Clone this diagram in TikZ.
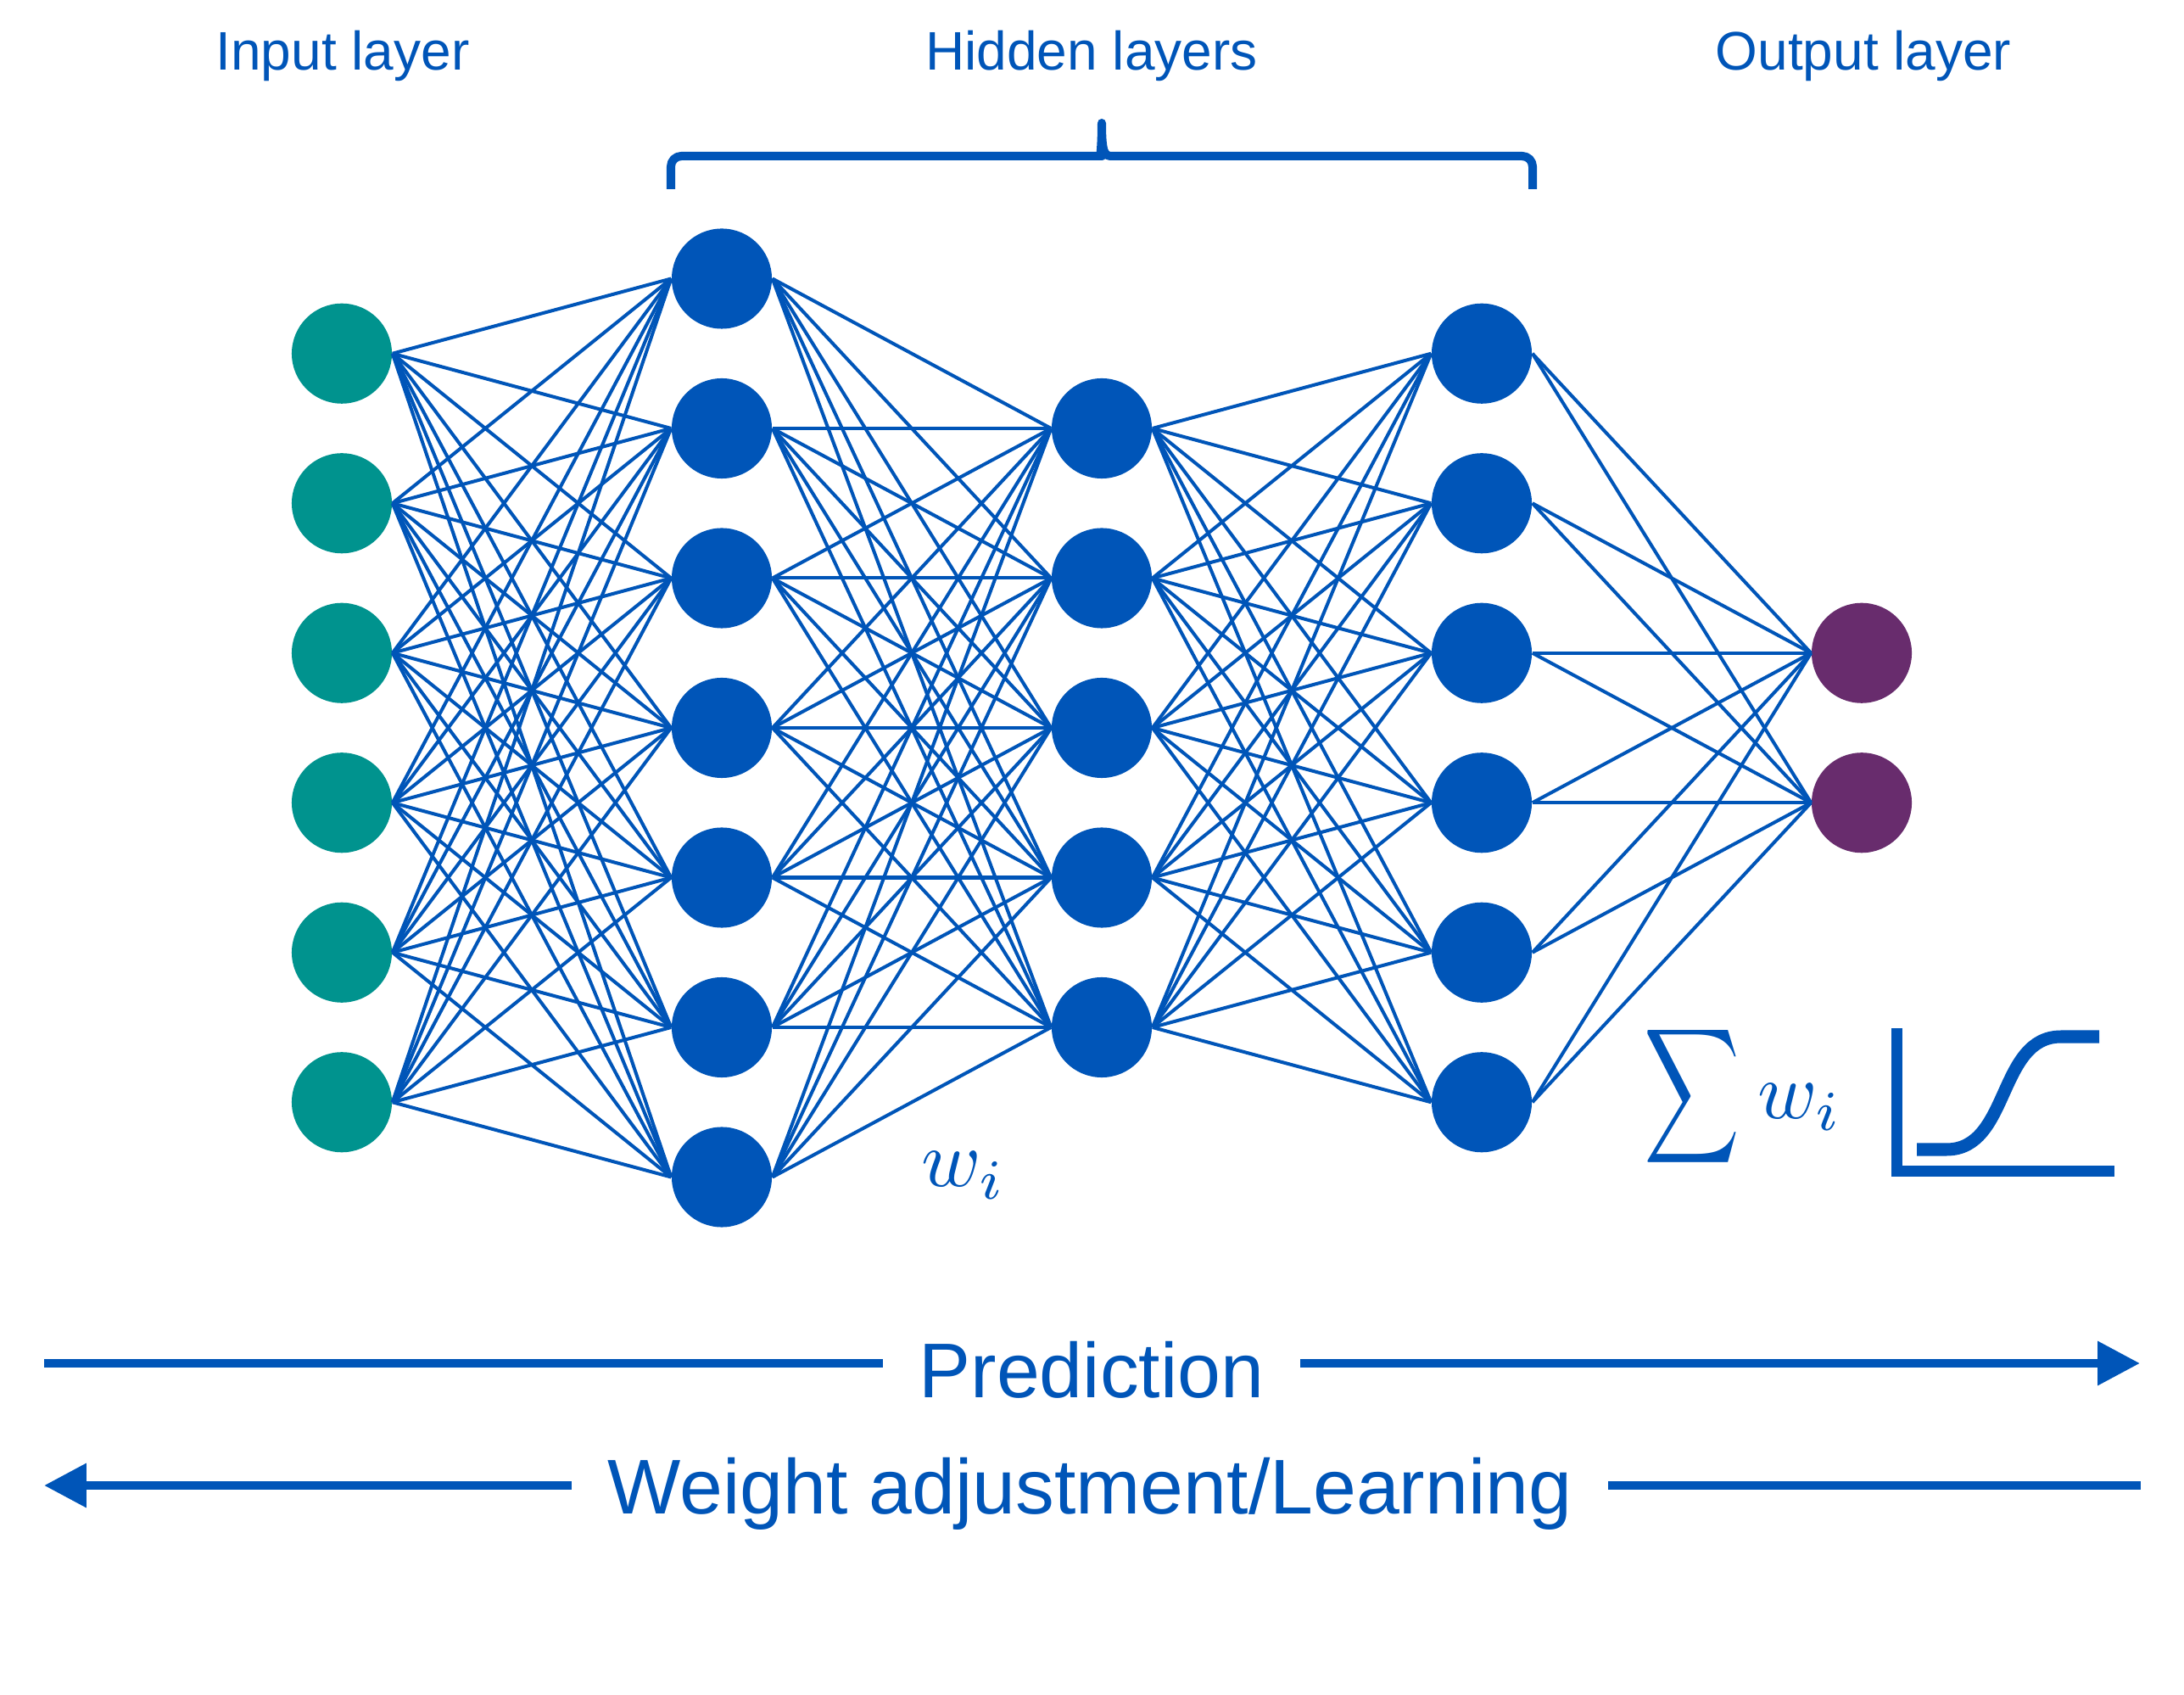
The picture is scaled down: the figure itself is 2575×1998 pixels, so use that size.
\documentclass[tikz,border=0pt]{standalone}
\usepackage{graphicx}
\usepackage{fontspec}
\setmainfont{Liberation Sans}
\usetikzlibrary{arrows.meta}
\definecolor{nnblue}{HTML}{0055B8}
\definecolor{nnteal}{HTML}{00938E}
\definecolor{nnpurple}{HTML}{682C6D}
\begin{document}
\begin{tikzpicture}[x=0.01cm,y=-0.01cm,
  neuron/.style={circle, inner sep=0pt, minimum size=1.18cm, draw=none},
  inneuron/.style={neuron, fill=nnteal},
  hidneuron/.style={neuron, fill=nnblue},
  outneuron/.style={neuron, fill=nnpurple},
  edge/.style={draw=nnblue, line width=1.14pt},
  toplabel/.style={text=nnblue, font=\fontsize{18.2}{22}\selectfont, inner sep=0pt},
  biglabel/.style={text=nnblue, font=\fontsize{26}{32}\selectfont, inner ysep=0pt, inner xsep=0.42cm},
  bigline/.style={draw=nnblue, line width=2.85pt},
  mathlabel/.style={text=nnblue, inner sep=0pt},
  bracestyle/.style={draw=nnblue, line width=2.85pt, line join=round},
  axisstyle/.style={draw=nnblue, line width=3.7pt, line join=miter},
  curvestyle/.style={draw=nnblue, line width=4.27pt}]
\useasboundingbox (0,0) rectangle (2575,1998);

% neurons
\foreach \k in {1,...,6} \node[inneuron] (i\k) at (403,{858+(\k-3.5)*176.5}) {};
\foreach \k in {1,...,7} \node[hidneuron] (a\k) at (851,{858+(\k-4)*176.5}) {};
\foreach \k in {1,...,5} \node[hidneuron] (b\k) at (1299,{858+(\k-3)*176.5}) {};
\foreach \k in {1,...,6} \node[hidneuron] (c\k) at (1747,{858+(\k-3.5)*176.5}) {};
\foreach \k in {1,2} \node[outneuron] (o\k) at (2195,{858+(\k-1.5)*176.5}) {};

% connections
\foreach \p in {1,...,6} \foreach \q in {1,...,7} \draw[edge] (i\p.east) -- (a\q.west);
\foreach \p in {1,...,7} \foreach \q in {1,...,5} \draw[edge] (a\p.east) -- (b\q.west);
\foreach \p in {1,...,5} \foreach \q in {1,...,6} \draw[edge] (b\p.east) -- (c\q.west);
\foreach \p in {1,...,6} \foreach \q in {1,2} \draw[edge] (c\p.east) -- (o\q.west);

% layer labels
\node[toplabel, anchor=base] (lin) at (404,83) {Input layer};
\node[toplabel, anchor=base] (lhid) at (1287,83) {Hidden layers};
\node[toplabel, anchor=base] (lout) at (2197,83) {Output layer};

% brace
\draw[bracestyle] (791,223) [rounded corners=3.5pt] -- (791,184) -- (1287,184) [sharp corners]
  .. controls (1296,184) and (1299,180) .. (1299,145)
  .. controls (1299,180) and (1302,184) .. (1311,184) [rounded corners=3.5pt]
  -- (1807,184) -- (1807,223);

% weights
\node[mathlabel, anchor=base west] (w1) at (1086,1399) {\scalebox{2.7}{$w_i$}};
\node[mathlabel, anchor=north west] (sig) at (1938,1203) {\resizebox*{1.13cm}{1.78cm}{$\displaystyle\sum$}};
\node[mathlabel, anchor=base west] (w2) at (2072,1318) {\scalebox{2.7}{$w_i$}};

% activation function
\draw[axisstyle] (2236.5,1212) -- (2236.5,1380.5) -- (2493,1380.5);
\draw[curvestyle] (2260,1355) -- (2295,1355) .. controls (2370,1355) and (2355,1222) .. (2430,1222) -- (2475,1222);

% prediction / learning arrows
\node[biglabel, anchor=base] (pred) at (1287,1647) {Prediction};
\node[biglabel, anchor=base] (learn) at (1285,1784) {Weight adjustment/Learning};
\coordinate (pl) at (52,1607);
\coordinate (pr) at (2523,1607);
\coordinate (ll) at (52,1751);
\coordinate (lr) at (2524,1751);
\draw[bigline] (pl) -- (pl -| pred.west);
\draw[bigline, -{Triangle[length=14.2pt,width=14.2pt]}] (pred.east |- pr) -- (pr);
\draw[bigline, -{Triangle[length=14.2pt,width=14.2pt]}] (ll -| learn.west) -- (ll);
\draw[bigline] (learn.east |- lr) -- (lr);
\end{tikzpicture}
\end{document}
